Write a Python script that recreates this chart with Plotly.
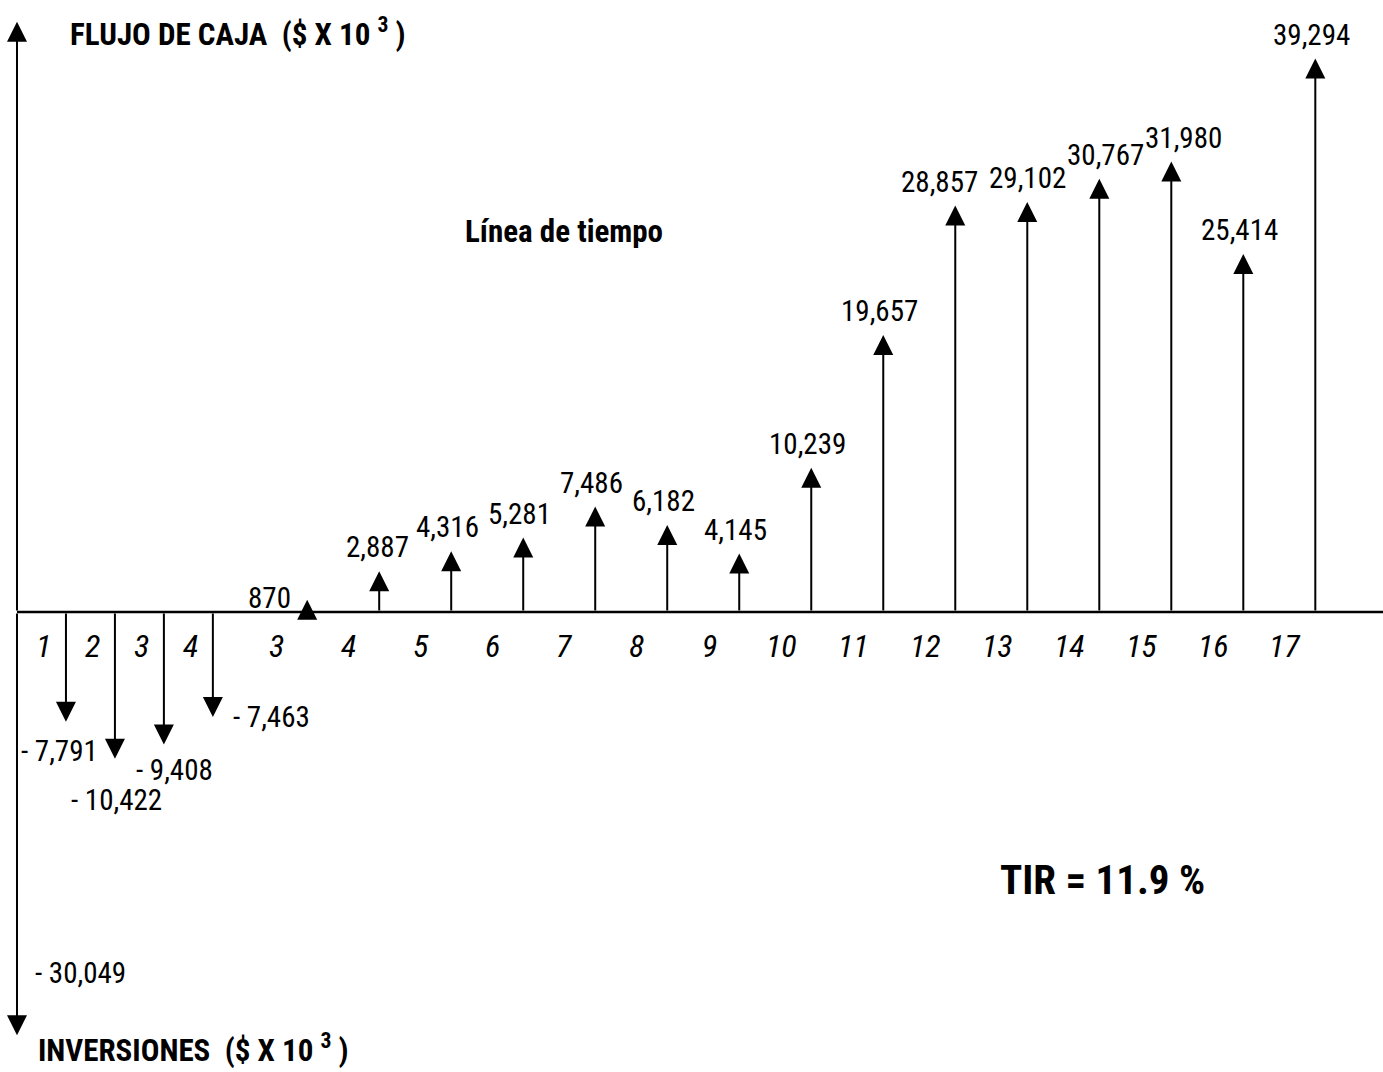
import plotly.graph_objects as go

# Cash-flow data (thousands of $)
construction_years = [1, 2, 3, 4]
investments = [-7791, -10422, -9408, -7463]
initial_investment = -30049
operation_years = list(range(3, 18))
cash_flows = [870, 2887, 4316, 5281, 7486, 6182, 4145, 10239,
              19657, 28857, 29102, 30767, 31980, 25414, 39294]
tir = 11.9

FONT = "Liberation Sans Narrow, Arial Narrow, Roboto Condensed, Liberation Sans, sans-serif"
W, H = 1383, 1072

# timeline coordinates: construction periods are drawn closer together
CONSTR_STEP = 0.68
OPER_START = 4.03
x_constr = [CONSTR_STEP * k for k in construction_years]
x_oper = [OPER_START + j for j in range(len(operation_years))]

X_RANGE = [-0.236, 18.97]
Y_RANGE = [-32660, 43450]
Y_AXIS_TOP = 41900


def px_to_paper(px, py):
    return px / W, 1 - py / H


def arrow(x, y, y0=0):
    return dict(
        x=x, y=y, ax=x, ay=y0,
        xref="x", yref="y", axref="x", ayref="y",
        showarrow=True, arrowhead=2, arrowsize=2.0, arrowwidth=2,
        arrowcolor="black", text="",
    )


annotations = []

# vertical axis: cash flows up, initial investment down
annotations.append(arrow(0, Y_AXIS_TOP))
annotations.append(arrow(0, initial_investment))

# construction-phase investments
for x, v in zip(x_constr, investments):
    annotations.append(arrow(x, v))

# operation-phase cash flows
for x, v in zip(x_oper, cash_flows):
    annotations.append(arrow(x, v))


def fmt(v):
    s = f"{abs(v):,}"
    return f"- {s}" if v < 0 else s


label_font = dict(family=FONT, size=29, color="black")
tick_font = dict(family=FONT, size=32, color="black", style="italic")

# labels of the investments (placement per label)
neg_offsets = [
    dict(xanchor="center", yanchor="top", xshift=-6, yshift=-10),
    dict(xanchor="center", yanchor="top", xshift=2, yshift=-22),
    dict(xanchor="left", yanchor="top", xshift=-30, yshift=-6),
    dict(xanchor="left", yanchor="middle", xshift=18, yshift=0),
]
for x, v, off in zip(x_constr, investments, neg_offsets):
    annotations.append(dict(x=x, y=v, xref="x", yref="y", text=fmt(v),
                            showarrow=False, font=label_font, **off))

annotations.append(dict(x=0, y=initial_investment, xref="x", yref="y",
                        text=fmt(initial_investment), showarrow=False,
                        font=label_font, xanchor="left", yanchor="middle",
                        xshift=16, yshift=62))

# labels of the positive cash flows (horizontal nudges keep them apart)
pos_xshift = [-14, -2, -4, -4, -4, -4, -4, -4, -4, -16, 0, 6, 12, -4, -4]
for i, (x, v) in enumerate(zip(x_oper, cash_flows)):
    if i == 0:
        annotations.append(dict(x=x, y=v, xref="x", yref="y", text=fmt(v),
                                showarrow=False, font=label_font,
                                xanchor="right", yanchor="middle",
                                xshift=-14, yshift=2))
    else:
        annotations.append(dict(x=x, y=v, xref="x", yref="y", text=fmt(v),
                                showarrow=False, font=label_font,
                                xanchor="center", yanchor="bottom",
                                xshift=pos_xshift[i], yshift=5))

# period numbers along the time line
for x, yr in zip(x_constr, construction_years):
    annotations.append(dict(x=x - 0.31, y=0, xref="x", yref="y",
                            text=str(yr), showarrow=False,
                            font=tick_font, xanchor="center",
                            yanchor="middle", yshift=-34))
for x, yr in zip(x_oper, operation_years):
    annotations.append(dict(x=x - 0.42, y=0, xref="x", yref="y",
                            text=str(yr), showarrow=False,
                            font=tick_font, xanchor="center",
                            yanchor="middle", yshift=-34))

# titles and notes
for txt, (px, py), size, yanchor in [
    ("FLUJO DE CAJA  ($ X 10 <sup>3</sup> )", (68, 33), 31, "middle"),
    ("INVERSIONES  ($ X 10 <sup>3</sup> )", (36, 1071), 31, "bottom"),
    ("Línea de tiempo", (463, 232), 31, "middle"),
    (f"TIR = {tir} %", (998, 880), 41, "middle"),
]:
    xp, yp = px_to_paper(px, py)
    annotations.append(dict(x=xp, y=yp, xref="paper", yref="paper", text=txt,
                            showarrow=False, xanchor="left", yanchor=yanchor,
                            font=dict(family=FONT, size=size, color="black",
                                      weight="bold")))

fig = go.Figure()
# invisible anchor trace so the data axes exist
fig.add_trace(go.Scatter(x=x_constr + x_oper, y=investments + cash_flows,
                         mode="markers", marker=dict(opacity=0),
                         hoverinfo="skip", showlegend=False))

# time line
fig.add_shape(type="line", xref="x", yref="y", x0=0, x1=X_RANGE[1], y0=0, y1=0,
              line=dict(color="black", width=2.5))

fig.update_layout(
    width=W, height=H,
    margin=dict(l=0, r=0, t=0, b=0),
    paper_bgcolor="white", plot_bgcolor="white",
    xaxis=dict(range=X_RANGE, visible=False, fixedrange=True),
    yaxis=dict(range=Y_RANGE, visible=False, fixedrange=True),
    annotations=annotations,
    showlegend=False,
)

fig.write_html("out.html")
